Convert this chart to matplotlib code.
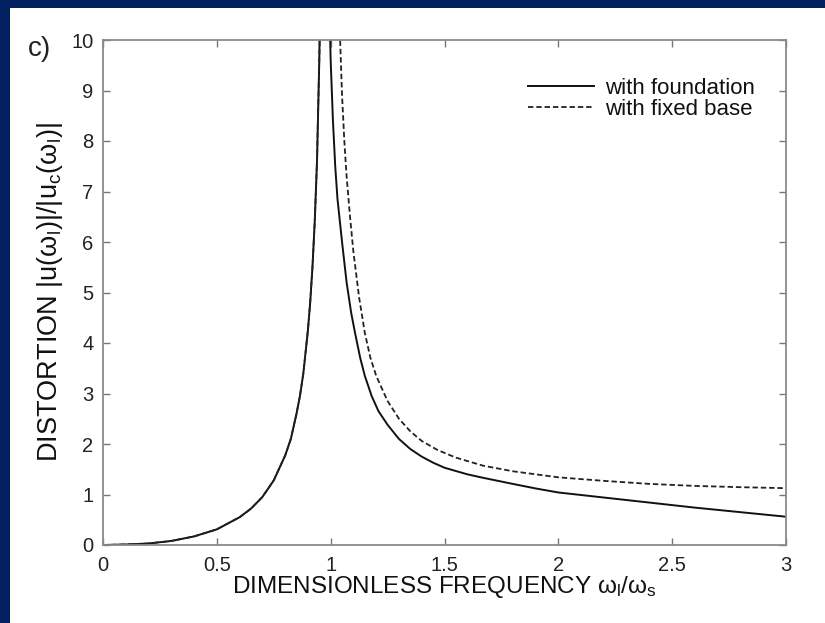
import matplotlib.pyplot as plt
from matplotlib.patches import Rectangle

plt.rcParams['font.family'] = ['Liberation Sans', 'DejaVu Sans']
plt.rcParams['mathtext.default'] = 'regular'

# frequency ratio and distortion, structure on flexible foundation
freq_found = [0.0, 0.1, 0.2, 0.3, 0.4, 0.5, 0.6, 0.65, 0.7, 0.75, 0.8,
              0.825, 0.85, 0.865, 0.88, 0.9, 0.91, 0.92, 0.93, 0.94, 0.95,
              0.96, 0.975, 0.99, 1.0, 1.01, 1.02, 1.03, 1.05, 1.07, 1.09,
              1.107, 1.13, 1.15, 1.18, 1.21, 1.25, 1.3, 1.35, 1.4, 1.45,
              1.5, 1.6, 1.67, 1.8, 1.9, 2.0, 2.2, 2.4, 2.6, 2.8, 3.0]
dist_found = [0.0, 0.01, 0.03, 0.08, 0.17, 0.31, 0.55, 0.72, 0.95, 1.28,
              1.77, 2.1, 2.6, 2.95, 3.4, 4.25, 4.8, 5.5, 6.4, 7.6, 9.6,
              12.5, 15.0, 11.5, 9.6, 8.4, 7.5, 6.85, 6.0, 5.2, 4.6,
              4.2, 3.7, 3.35, 2.95, 2.65, 2.38, 2.1, 1.9, 1.75, 1.63,
              1.53, 1.4, 1.33, 1.21, 1.12, 1.04, 0.94, 0.84, 0.74, 0.65,
              0.56]

# same structure with a fixed base
freq_fixed = [0.0, 0.1, 0.2, 0.3, 0.4, 0.5, 0.6, 0.65, 0.7, 0.75, 0.8,
              0.825, 0.85, 0.865, 0.88, 0.9, 0.91, 0.92, 0.93, 0.94, 0.95,
              0.96, 0.98, 1.0, 1.02, 1.03, 1.04, 1.05, 1.06, 1.07, 1.085,
              1.1, 1.125, 1.15, 1.175, 1.2, 1.25, 1.3, 1.35, 1.4, 1.47,
              1.55, 1.67, 1.8, 2.0, 2.2, 2.4, 2.6, 2.8, 3.0]
dist_fixed = [0.0, 0.01, 0.03, 0.08, 0.17, 0.31, 0.55, 0.72, 0.95, 1.28,
              1.77, 2.1, 2.6, 2.95, 3.4, 4.25, 4.8, 5.5, 6.4, 7.6, 9.6,
              12.0, 24.0, 40.0, 20.0, 14.0, 10.2, 8.9, 8.0, 7.3, 6.5,
              5.8, 4.9, 4.2, 3.7, 3.35, 2.85, 2.5, 2.25, 2.06, 1.88,
              1.73, 1.57, 1.46, 1.34, 1.27, 1.21, 1.17, 1.145, 1.125]

xticks = [0, 0.5, 1, 1.5, 2, 2.5, 3]
xtick_labels = ['0', '0.5', '1', '1.5', '2', '2.5', '3']
yticks = list(range(11))

W, H = 825, 623
fig = plt.figure(figsize=(W / 100, H / 100), dpi=100, facecolor='white')

# dark slide border along the top and left edges
navy = '#02205f'
fig.patches.append(Rectangle((0, 1 - 8 / H), 1, 8 / H, transform=fig.transFigure,
                             facecolor=navy, edgecolor='none', zorder=0))
fig.patches.append(Rectangle((0, 0), 10 / W, 1, transform=fig.transFigure,
                             facecolor=navy, edgecolor='none', zorder=0))

ax = fig.add_axes([103 / W, 78 / H, 683 / W, 505 / H])

ax.plot(freq_found, dist_found, color='#111111', lw=1.4, label='with foundation')
ax.plot(freq_fixed, dist_fixed, color='#222222', lw=1.3, ls=(0, (3, 1.6)),
        label='with fixed base')

ax.set_xlim(0, 3)
ax.set_ylim(0, 10)
ax.set_xticks(xticks)
ax.set_xticklabels(xtick_labels)
ax.set_yticks(yticks)

for sp in ax.spines.values():
    sp.set_color('#8a8a8a')
    sp.set_linewidth(1.3)
ax.tick_params(direction='in', length=5, width=1, color='#777777',
               top=True, right=True, labelsize=14.5, labelcolor='#222222')
ax.tick_params(axis='x', pad=8)
ax.tick_params(axis='y', pad=7)

ax.set_xlabel(r'DIMENSIONLESS FREQUENCY $\omega_l/\omega_s$', fontsize=17.5,
              color='#111111', labelpad=-1)
ax.set_ylabel(r'DISTORTION |u($\omega_l$)|/|u$_c$($\omega_l$)|', fontsize=19.5,
              color='#111111', labelpad=4)

leg = ax.legend(loc='upper right', bbox_to_anchor=(0.955, 0.925), frameon=False,
                fontsize=16, handlelength=3.0, handletextpad=0.5,
                labelspacing=0.0, borderpad=0, borderaxespad=0)
for t in leg.get_texts():
    t.set_color('#111111')

fig.text(28 / W, 1 - 56 / H, 'c)', fontsize=20, color='#222222', va='baseline')

fig.savefig('out.png', dpi=100, facecolor=fig.get_facecolor())
